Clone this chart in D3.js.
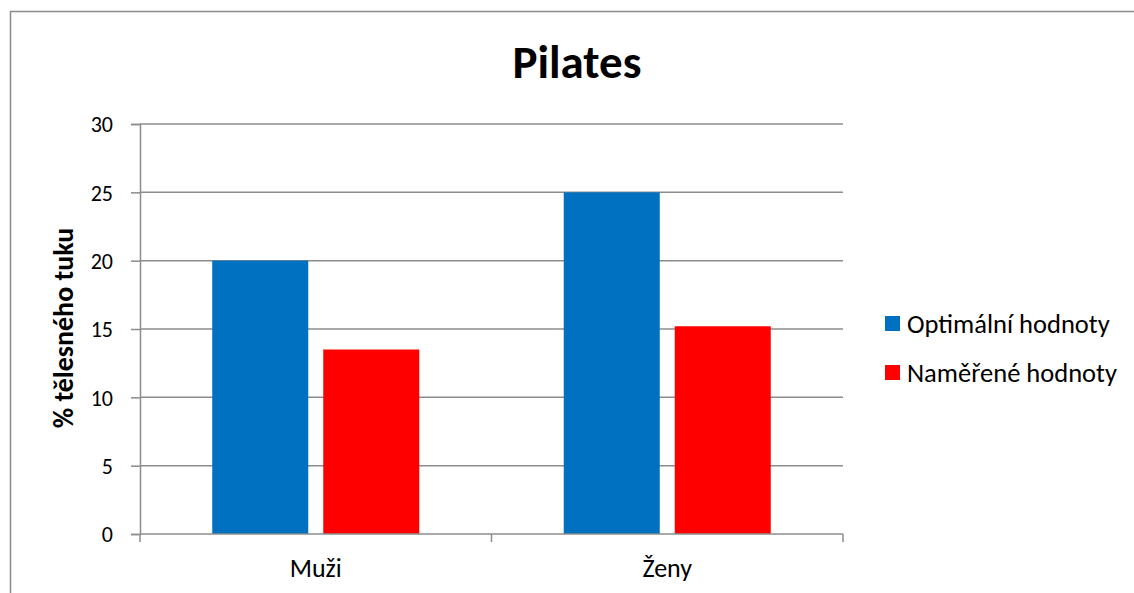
<!DOCTYPE html>
<html>
<head>
<meta charset="utf-8">
<script src="https://cdn.jsdelivr.net/npm/d3@7"></script>
<style>
  body { margin: 0; background: #fff; }
  text { font-family: Carlito, Calibri, Lato, sans-serif; fill: #000; }
</style>
</head>
<body>
<div id="chart"></div>
<script>
var categories = ["Muži", "Ženy"];
var seriesNames = ["Optimální hodnoty", "Naměřené hodnoty"];
var optimal = [20, 25];
var measured = [13.5, 15.2];
var yTicks = [0, 5, 10, 15, 20, 25, 30];
var colors = ["#0070C0", "#FF0000"];

var width = 1134, height = 593;
var margin = {top: 124, right: 291, bottom: 59, left: 140};

var svg = d3.select("#chart").append("svg")
    .attr("width", width)
    .attr("height", height);

// outer chart border (cut off on right/bottom like the picture)
svg.append("rect")
    .attr("x", 10.5).attr("y", 11.5)
    .attr("width", 1140).attr("height", 600)
    .attr("fill", "none").attr("stroke", "#8c8c8c").attr("stroke-width", 1.5);

var x0 = d3.scaleBand()
    .domain(categories)
    .range([margin.left, width - margin.right])
    .paddingInner(0.411)
    .paddingOuter(0.2055);

var x1 = d3.scaleBand()
    .domain(seriesNames)
    .range([0, x0.bandwidth()])
    .paddingInner(0.135);

var y = d3.scaleLinear()
    .domain([0, 30])
    .range([height - margin.bottom, margin.top]);

// y axis
var yAxis = d3.axisLeft(y).tickValues(yTicks).tickSize(9);
var gy = svg.append("g").attr("transform", "translate(" + margin.left + ",0)").call(yAxis);
gy.select(".domain").attr("stroke", "#8c8c8c").attr("stroke-width", 1.5);
gy.selectAll(".tick line").attr("stroke", "#8c8c8c").attr("stroke-width", 1.5);
gy.selectAll(".tick text").style("font-size", "22px").attr("x", -27).attr("dy", "0.36em");

// gridlines
svg.append("g").selectAll("line")
    .data(yTicks.filter(function(d){ return d > 0; }))
    .join("line")
    .attr("x1", margin.left).attr("x2", width - margin.right)
    .attr("y1", function(d){ return y(d); }).attr("y2", function(d){ return y(d); })
    .attr("stroke", "#8c8c8c").attr("stroke-width", 1.5);

// bars
var rows = categories.map(function(c, i){
    return {cat: c, vals: [optimal[i], measured[i]]};
});
var groups = svg.append("g").selectAll("g")
    .data(rows)
    .join("g")
    .attr("transform", function(d){ return "translate(" + x0(d.cat) + ",0)"; });
groups.selectAll("rect")
    .data(function(d){ return d.vals.map(function(v, j){ return {name: seriesNames[j], v: v, j: j}; }); })
    .join("rect")
    .attr("x", function(d){ return x1(d.name); })
    .attr("width", x1.bandwidth())
    .attr("y", function(d){ return y(d.v); })
    .attr("height", function(d){ return y(0) - y(d.v); })
    .attr("fill", function(d){ return colors[d.j]; });

// x axis
var step = x0.step();
var xBase = height - margin.bottom;
var gx = svg.append("g");
gx.append("line")
    .attr("x1", margin.left).attr("x2", width - margin.right)
    .attr("y1", xBase).attr("y2", xBase)
    .attr("stroke", "#8c8c8c").attr("stroke-width", 1.5);
gx.selectAll(".xt")
    .data(d3.range(categories.length + 1))
    .join("line")
    .attr("x1", function(i){ return margin.left + i * step; })
    .attr("x2", function(i){ return margin.left + i * step; })
    .attr("y1", xBase).attr("y2", xBase + 8)
    .attr("stroke", "#8c8c8c").attr("stroke-width", 1.5);
gx.selectAll("text")
    .data(categories)
    .join("text")
    .attr("x", function(d){ return x0(d) + x0.bandwidth() / 2; })
    .attr("y", xBase + 43)
    .attr("text-anchor", "middle")
    .style("font-size", "26px")
    .text(function(d){ return d; });

// title
svg.append("text")
    .attr("x", 577).attr("y", 78)
    .attr("text-anchor", "middle")
    .style("font-size", "47px").style("font-weight", "bold")
    .text("Pilates");

// y label
svg.append("text")
    .attr("transform", "translate(73,328) rotate(-90)")
    .attr("text-anchor", "middle")
    .style("font-size", "28px").style("font-weight", "bold")
    .text("% tělesného tuku");

// legend
var legend = svg.append("g").selectAll("g")
    .data(seriesNames)
    .join("g")
    .attr("transform", function(d, i){ return "translate(885," + (316 + i * 49) + ")"; });
legend.append("rect")
    .attr("width", 15).attr("height", 15)
    .attr("fill", function(d, i){ return colors[i]; });
legend.append("text")
    .attr("x", 22).attr("y", 7.5)
    .attr("dy", "0.36em")
    .style("font-size", "26.5px")
    .text(function(d){ return d; });
</script>
</body>
</html>
